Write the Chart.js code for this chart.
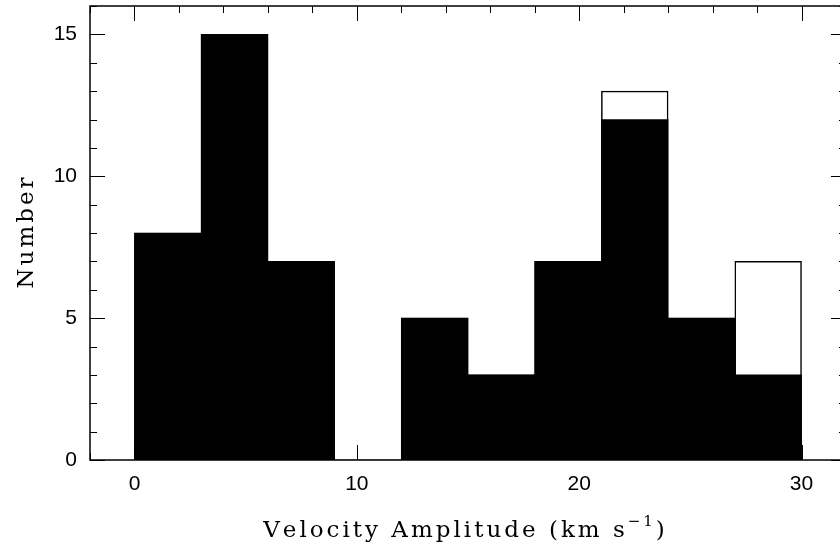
<!DOCTYPE html>
<html lang="en">
<head>
  <meta charset="UTF-8">
  <title>Velocity Amplitude Histogram</title>
  <script src="https://cdn.jsdelivr.net/npm/chart.js"></script>
  <style>
    html, body { margin: 0; padding: 0; background: #fff; overflow: hidden; }
    .wrap { width: 840px; height: 547px; overflow: hidden; }
    #histChart { display: block; }
  </style>
</head>
<body>
  <div class="wrap"><canvas id="histChart" width="846" height="547"></canvas></div>

  <script>
    // bin centres (bins are 3 km/s wide, 0..30)
    const binCenters = [1.5, 4.5, 7.5, 10.5, 13.5, 16.5, 19.5, 22.5, 25.5, 28.5];
    // filled (black) counts
    const filledCounts = [8, 15, 7, 0, 5, 3, 7, 12, 5, 3];
    // total counts (open outline)
    const totalCounts = [8, 15, 7, 0, 5, 3, 7, 13, 5, 7];
    // axis ticks
    const xTickLabels = [0, 10, 20, 30];
    const yTickLabels = [0, 5, 10, 15];

    const serif = "'DejaVu Serif', serif";
    const sans = "'Liberation Sans', Arial, sans-serif";
    const spacing = 3;

    // draw text with letter spacing, returns width
    function spacedText(ctx, str, x, y, draw) {
      let w = 0;
      for (const ch of str) {
        if (draw) ctx.fillText(ch, x + w, y);
        w += ctx.measureText(ch).width + spacing;
      }
      return w;
    }

    // inward frame ticks + axis titles like the original plot
    const frameTicks = {
      id: 'frameTicks',
      afterDraw(chart) {
        const { ctx, chartArea: a, scales: { x, y } } = chart;
        ctx.save();
        ctx.strokeStyle = '#000';
        ctx.lineWidth = 1.5;
        ctx.strokeRect(a.left, a.top, a.right - a.left, a.bottom - a.top);
        ctx.lineWidth = 1;
        for (let v = -2; v <= 32; v += 2) {
          const px = Math.round(x.getPixelForValue(v)) + 0.5;
          const len = v % 10 === 0 ? 15 : 7;
          ctx.beginPath();
          ctx.moveTo(px, a.bottom); ctx.lineTo(px, a.bottom - len);
          ctx.moveTo(px, a.top); ctx.lineTo(px, a.top + len);
          ctx.stroke();
        }
        for (let v = 0; v <= 16; v += 1) {
          const py = Math.round(y.getPixelForValue(v)) + 0.5;
          const len = v % 5 === 0 ? 15 : 7;
          ctx.beginPath();
          ctx.moveTo(a.left, py); ctx.lineTo(a.left + len, py);
          ctx.moveTo(a.right, py); ctx.lineTo(a.right - len, py);
          ctx.stroke();
        }

        // x title with raised -1
        ctx.fillStyle = '#000';
        ctx.textBaseline = 'alphabetic';
        ctx.textAlign = 'left';
        const big = '23px ' + serif, small = '15px ' + serif;
        const p1 = 'Velocity Amplitude (km s', p2 = '\u22121', p3 = ')';
        ctx.font = big;
        const w1 = spacedText(ctx, p1, 0, 0, false);
        const w3 = spacedText(ctx, p3, 0, 0, false) - spacing;
        ctx.font = small;
        const w2 = spacedText(ctx, p2, 0, 0, false);
        const total = w1 + w2 + w3;
        let tx = 464 - total / 2;
        const base = 537;
        ctx.font = big;
        spacedText(ctx, p1, tx, base, true);
        ctx.font = small;
        spacedText(ctx, p2, tx + w1, base - 11, true);
        ctx.font = big;
        spacedText(ctx, p3, tx + w1 + w2, base, true);

        // y title
        ctx.save();
        ctx.translate(33, 233);
        ctx.rotate(-Math.PI / 2);
        ctx.font = big;
        const wn = spacedText(ctx, 'Number', 0, 0, false) - spacing;
        spacedText(ctx, 'Number', -wn / 2, 0, true);
        ctx.restore();

        ctx.restore();
      }
    };

    new Chart(document.getElementById('histChart').getContext('2d'), {
      type: 'bar',
      data: {
        datasets: [
          {
            label: 'filled',
            data: binCenters.map((c, i) => ({ x: c, y: filledCounts[i] })),
            backgroundColor: '#000',
            borderWidth: 0,
            barPercentage: 1,
            categoryPercentage: 1,
            grouped: false
          },
          {
            label: 'total',
            data: binCenters.map((c, i) => ({ x: c, y: totalCounts[i] })),
            backgroundColor: '#fff',
            borderColor: '#000',
            borderWidth: 1.5,
            barPercentage: 1,
            categoryPercentage: 1,
            grouped: false
          }
        ]
      },
      options: {
        responsive: false,
        animation: false,
        layout: { padding: { top: 6, right: 0, left: 0, bottom: 0 } },
        plugins: { legend: { display: false }, tooltip: { enabled: false } },
        scales: {
          x: {
            type: 'linear',
            offset: false,
            min: -2,
            max: 32,
            afterBuildTicks: s => { s.ticks = xTickLabels.map(v => ({ value: v })); },
            afterFit: s => { s.height = 87; s.paddingLeft = 0; s.paddingRight = 0; },
            grid: { display: false, drawTicks: false },
            border: { display: false },
            ticks: { color: '#000', padding: 12, font: { family: sans, size: 21 }, maxRotation: 0 }
          },
          y: {
            min: 0,
            max: 16,
            afterBuildTicks: s => { s.ticks = yTickLabels.map(v => ({ value: v })); },
            afterFit: s => { s.width = 90; s.paddingTop = 0; s.paddingBottom = 0; },
            grid: { display: false, drawTicks: false },
            border: { display: false },
            ticks: { color: '#000', padding: 13, font: { family: sans, size: 21 } }
          }
        }
      },
      plugins: [frameTicks]
    });
  </script>
</body>
</html>
